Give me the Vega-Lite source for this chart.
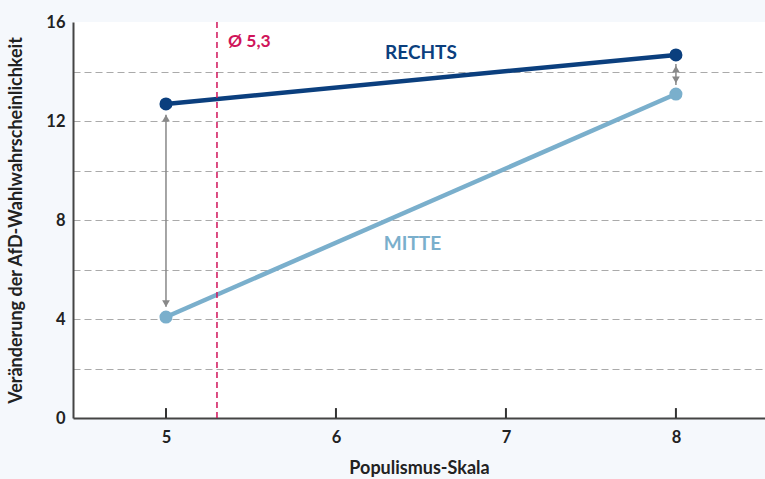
{
  "$schema": "https://vega.github.io/schema/vega-lite/v6.json",
  "width": 692,
  "height": 396,
  "autosize": "none",
  "padding": {"left": 73, "top": 22, "right": 0, "bottom": 61},
  "background": "#f5f8fc",
  "config": {
    "view": {"fill": "#ffffff", "stroke": null},
    "font": "Lato",
    "axis": {"labelFont": "Lato", "titleFont": "Lato", "labelFontWeight": "bold", "titleFontWeight": "bold", "labelFontSize": 16.5, "labelColor": "#222222", "titleColor": "#222222"}
  },
  "datasets": {
    "lines": [
      {"series": "RECHTS", "x": 5, "y": 12.69},
      {"series": "RECHTS", "x": 8, "y": 14.67},
      {"series": "MITTE", "x": 5, "y": 4.08},
      {"series": "MITTE", "x": 8, "y": 13.09}
    ],
    "arrows": [
      {"x": 5, "top": 12.25, "bottom": 4.5, "topHead": 12.12, "bottomHead": 4.62},
      {"x": 8, "top": 14.3, "bottom": 13.45, "topHead": 14.1, "bottomHead": 13.66}
    ],
    "xtickmarks": [
      {"x": 5, "tickStart": 0, "tickEnd": 0.4},
      {"x": 6, "tickStart": 0, "tickEnd": 0.4},
      {"x": 7, "tickStart": 0, "tickEnd": 0.4},
      {"x": 8, "tickStart": 0, "tickEnd": 0.4}
    ]
  },
  "layer": [
    {
      "data": {"name": "lines"},
      "mark": {"type": "line", "strokeWidth": 4.5},
      "encoding": {
        "x": {"field": "x", "type": "quantitative", "title": "Populismus-Skala", "scale": {"domain": [4.453, 8.524], "nice": false, "zero": false},
          "axis": {"values": [5, 6, 7, 8], "format": "d", "grid": false, "ticks": false, "domainColor": "#444444", "domainWidth": 2, "labelPadding": 11, "titlePadding": 14, "titleFontSize": 18}},
        "y": {"field": "y", "type": "quantitative", "title": "Veränderung der AfD-Wahlwahrscheinlichkeit", "scale": {"domain": [0, 16], "nice": false},
          "axis": {"values": [0, 2, 4, 6, 8, 10, 12, 14, 16], "labelExpr": "datum.value % 4 == 0 ? datum.label : ''", "ticks": false, "grid": true, "gridColor": "#aaaaaa", "gridDash": [7, 4], "gridWidth": 1.2, "gridOpacity": {"condition": {"test": "datum.value == 16 || datum.value == 0", "value": 0}, "value": 1}, "domainColor": "#444444", "domainWidth": 2, "labelPadding": 8, "titlePadding": 20, "titleFontSize": 18}},
        "color": {"field": "series", "type": "nominal", "scale": {"domain": ["RECHTS", "MITTE"], "range": ["#0b3f7e", "#7aafcc"]}, "legend": null}
      }
    },
    {
      "data": {"name": "lines"},
      "mark": {"type": "circle", "size": 170, "opacity": 1},
      "encoding": {
        "x": {"field": "x", "type": "quantitative"},
        "y": {"field": "y", "type": "quantitative"},
        "color": {"field": "series", "type": "nominal", "legend": null}
      }
    },
    {
      "data": {"name": "xtickmarks"},
      "mark": {"type": "rule", "color": "#333333", "strokeWidth": 2},
      "encoding": {
        "x": {"field": "x", "type": "quantitative"},
        "y": {"field": "tickStart", "type": "quantitative"},
        "y2": {"field": "tickEnd"}
      }
    },
    {
      "data": {"name": "arrows"},
      "mark": {"type": "rule", "color": "#888888", "strokeWidth": 1.5},
      "encoding": {
        "x": {"field": "x", "type": "quantitative"},
        "y": {"field": "top", "type": "quantitative"},
        "y2": {"field": "bottom"}
      }
    },
    {
      "data": {"name": "arrows"},
      "mark": {"type": "point", "shape": "triangle-up", "filled": true, "color": "#888888", "size": 60, "opacity": 1},
      "encoding": {
        "x": {"field": "x", "type": "quantitative"},
        "y": {"field": "topHead", "type": "quantitative"}
      }
    },
    {
      "data": {"name": "arrows"},
      "mark": {"type": "point", "shape": "triangle-down", "filled": true, "color": "#888888", "size": 60, "opacity": 1},
      "encoding": {
        "x": {"field": "x", "type": "quantitative"},
        "y": {"field": "bottomHead", "type": "quantitative"}
      }
    },
    {
      "data": {"values": [{"x": 5.3}]},
      "mark": {"type": "rule", "color": "#d0145a", "strokeWidth": 1.5, "strokeDash": [6, 4]},
      "encoding": {
        "x": {"field": "x", "type": "quantitative"}
      }
    },
    {
      "data": {"values": [{"x": 5.3, "y": 15.2, "label": "Ø 5,3"}]},
      "mark": {"type": "text", "color": "#d0145a", "fontWeight": "bold", "fontSize": 17.5, "align": "left", "dx": 11, "font": "Lato"},
      "encoding": {
        "x": {"field": "x", "type": "quantitative"},
        "y": {"field": "y", "type": "quantitative"},
        "text": {"field": "label"}
      }
    },
    {
      "data": {"values": [
        {"x": 6.5, "y": 14.75, "label": "RECHTS", "series": "RECHTS"},
        {"x": 6.45, "y": 7.05, "label": "MITTE", "series": "MITTE"}
      ]},
      "mark": {"type": "text", "fontWeight": "bold", "fontSize": 19, "font": "Lato"},
      "encoding": {
        "x": {"field": "x", "type": "quantitative"},
        "y": {"field": "y", "type": "quantitative"},
        "text": {"field": "label"},
        "color": {"field": "series", "type": "nominal", "legend": null}
      }
    }
  ]
}
